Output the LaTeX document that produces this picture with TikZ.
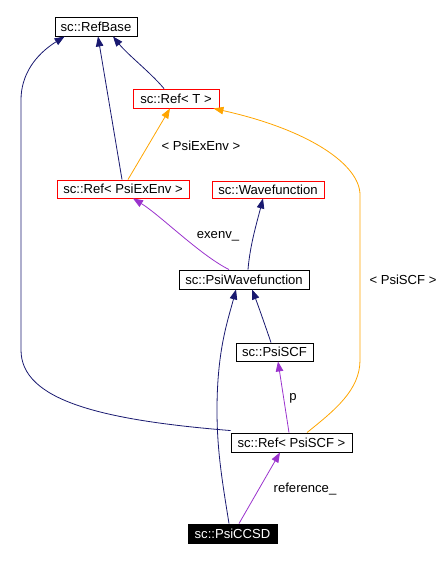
\documentclass[tikz,border=0pt]{standalone}
\usepackage{fontspec}
\setmainfont{Liberation Sans}
\usetikzlibrary{arrows.meta}
\definecolor{navyc}{HTML}{191970}
\definecolor{orangec}{HTML}{FFA500}
\definecolor{purplec}{HTML}{9A32CD}
\definecolor{redc}{HTML}{FF0000}
\begin{document}
\begin{tikzpicture}[x=1pt,y=-1pt,
  font=\fontsize{13.1}{14}\selectfont,
  cls/.style={draw=black,line width=0.9pt,inner sep=0pt,anchor=center,align=center},
  redcls/.style={cls,draw=redc},
  blackcls/.style={cls,fill=black,text=white},
  tri/.style={-{Triangle[length=10pt,width=7.5pt]}},
  inh/.style={draw=navyc,line width=0.8pt,tri},
  use/.style={draw=purplec,line width=0.8pt,tri},
  tmpl/.style={draw=orangec,line width=0.8pt,tri},
  lbl/.style={inner sep=0pt,anchor=center}]
\useasboundingbox (0,0) rectangle (446,561);
\node[cls,minimum width=82pt,minimum height=19pt] (refbase) at (96,26.5) {sc::RefBase};
\node[redcls,minimum width=86pt,minimum height=19pt] (reft) at (176,98.5) {sc::Ref< T >};
\node[redcls,minimum width=132pt,minimum height=18pt] (refexenv) at (123,189) {sc::Ref< PsiExEnv >};
\node[redcls,minimum width=112pt,minimum height=17pt] (wavefn) at (268,189.5) {sc::Wavefunction};
\node[cls,minimum width=130pt,minimum height=19pt] (psiwf) at (244,279.5) {sc::PsiWavefunction};
\node[cls,minimum width=77pt,minimum height=18pt] (psiscf) at (274.5,352) {sc::PsiSCF};
\node[cls,minimum width=121pt,minimum height=19pt] (refscf) at (291.5,442.5) {sc::Ref< PsiSCF >};
\node[blackcls,minimum width=89pt,minimum height=19pt] (ccsd) at (232.5,533.5) {sc::PsiCCSD};

% inheritance edges
\draw[inh] ([xshift=-1pt]refexenv.north) -- ([xshift=2pt]refbase.south);
\draw[inh] ([xshift=-12pt]reft.north) .. controls (150,72) and (128,55) .. ([xshift=17pt]refbase.south);
\draw[inh] ([yshift=2pt]refscf.north west) .. controls (100,420) and (21,400) .. (21,350) -- (21,100) .. controls (21,75) and (35,55) .. ([xshift=10pt]refbase.south west);
\draw[inh] ([xshift=4pt]psiwf.north) .. controls (250,245) and (257,222) .. ([xshift=-5pt]wavefn.south);
\draw[inh] ([xshift=-3.5pt]psiscf.north) .. controls (265,325) and (258,305) .. ([xshift=8pt]psiwf.south);
\draw[inh] ([xshift=-3.5pt]ccsd.north) .. controls (222,480) and (217,450) .. (217,410) .. controls (217,350) and (228,320) .. ([xshift=-8pt]psiwf.south);

% template edges
\draw[tmpl] ([xshift=5pt]refexenv.north) -- node[lbl,pos=0.5,xshift=52pt,yshift=-2pt] (lexenv) {< PsiExEnv >} ([xshift=-6pt]reft.south);
\draw[tmpl] ([xshift=15.5pt]refscf.north) .. controls (335,410) and (360,390) .. (360,360) -- (360,195) .. controls (360,165) and (310,130) .. ([xshift=-6pt]reft.south east);
\node[lbl] (lscf) at (403,280) {< PsiSCF >};

% usage edges
\draw[use] ([xshift=-15pt]psiwf.north) .. controls (200,255) and (160,215) .. ([xshift=10pt]refexenv.south);
\node[lbl] (lexv) at (218,236) {exenv\_};
\draw[use] ([xshift=-2.5pt]refscf.north) -- ([xshift=3.5pt]psiscf.south);
\node[lbl] (lp) at (293,398) {p};
\draw[use] ([xshift=6.5pt]ccsd.north) -- ([xshift=-11.5pt]refscf.south);
\node[lbl] (lref) at (305,489) {reference\_};
\end{tikzpicture}
\end{document}
